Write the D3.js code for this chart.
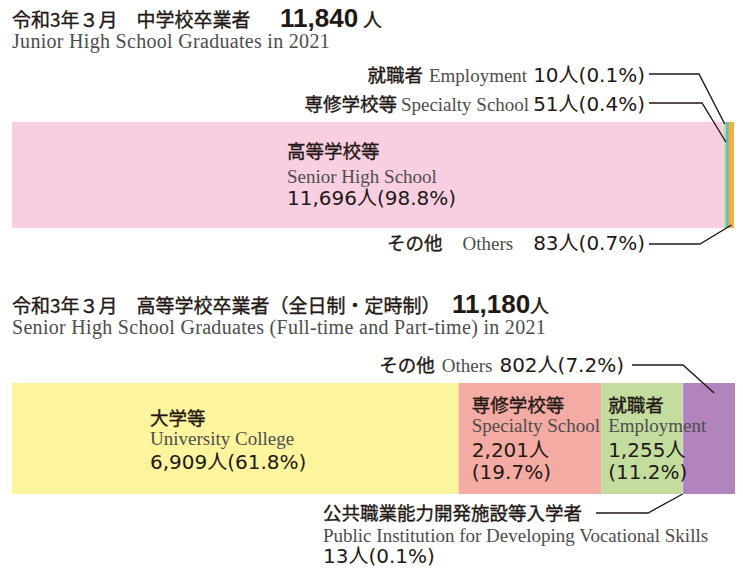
<!DOCTYPE html>
<html>
<head>
<meta charset="utf-8">
<script src="https://cdn.jsdelivr.net/npm/d3@7"></script>
<style>
  body { margin: 0; background: #fff; }
  svg { display: block; }
  .jp { stroke: #231815; stroke-width: 0.35px; }
</style>
</head>
<body>
<div id="chart"></div>
<script>
'use strict';

// junior high school graduates (top bar)
const jhTotal = '11,840';
const jhCategories = ['高等学校等', '就職者', '専修学校等', 'その他'];
const jhEnglish = ['Senior High School', 'Employment', 'Specialty School', 'Others'];
const jhCounts = [11696, 10, 51, 83];
const jhPercents = [98.8, 0.1, 0.4, 0.7];
const jhColors = ['#f8cfe1', '#b9dba6', '#6fb6c6', '#f3b23a'];

// senior high school graduates (bottom bar)
const shTotal = '11,180';
const shCategories = ['大学等', '専修学校等', '就職者', '公共職業能力開発施設等入学者', 'その他'];
const shEnglish = ['University College', 'Specialty School', 'Employment', 'Public Institution for Developing Vocational Skills', 'Others'];
const shCounts = [6909, 2201, 1255, 13, 802];
const shPercents = [61.8, 19.7, 11.2, 0.1, 7.2];
const shColors = ['#fdf59e', '#f3aba4', '#c3dd9f', '#c3dd9f', '#b184be'];

const width = 743;
const height = 571;
const JP = '"Noto Sans CJK JP", "Noto Sans", sans-serif';
const EN = '"Liberation Serif", "DejaVu Serif", serif';
const NUM = '"DejaVu Sans", "Noto Sans CJK JP", sans-serif';
const ink = '#231815';
const grey = '#4d4d4d';

const svg = d3.select('#chart').append('svg')
  .attr('width', width)
  .attr('height', height);

const fmt = d3.format(',');
const countText = (c, p) => `${fmt(c)}人(${p}%)`;

// stack segments along a linear scale, small ones get a minimum width
const stackSegments = (counts, scale, minPx) => {
  const base = scale(0);
  const widths = counts.map(c => Math.max(minPx, scale(c) - base));
  const extra = d3.sum(widths) - (scale(d3.sum(counts)) - base);
  widths[d3.maxIndex(counts)] -= extra;
  let x0 = base;
  return widths.map((w, i) => {
    const seg = {i, x: x0, w};
    x0 += w;
    return seg;
  });
};

const drawBar = (segs, colors, y, h) => {
  svg.append('g')
    .selectAll('rect')
    .data(segs)
    .join('rect')
    .attr('x', d => d.x)
    .attr('y', y)
    .attr('width', d => d.w)
    .attr('height', h)
    .attr('fill', (d, i) => colors[i]);
};

const title = (y, jp, total, numX, gap) => {
  svg.append('text')
    .attr('class', 'jp')
    .attr('x', 12)
    .attr('y', y)
    .attr('fill', ink)
    .style('font-family', JP)
    .style('font-size', '19px')
    .text(jp);
  const t = svg.append('text')
    .attr('x', numX)
    .attr('y', y)
    .attr('fill', ink)
    .style('font-family', '"Liberation Sans", Arial, sans-serif')
    .style('font-size', '26px')
    .style('font-weight', 'bold')
    .text(total);
  t.append('tspan')
    .attr('class', 'jp')
    .attr('dx', gap)
    .style('font-family', JP)
    .style('font-size', '19px')
    .style('font-weight', 'normal')
    .text('人');
};

const subtitle = (y, txt) => {
  svg.append('text')
    .attr('x', 12)
    .attr('y', y)
    .attr('fill', grey)
    .style('font-family', EN)
    .style('font-size', '20px')
    .style('letter-spacing', '0.3px')
    .text(txt);
};

// label "日本語 English N人(p%)" right aligned
const sideLabel = (xEnd, y, jp, en, num, gap) => {
  const t = svg.append('text')
    .attr('x', xEnd)
    .attr('y', y)
    .attr('text-anchor', 'end')
    .attr('fill', ink)
    .style('font-family', JP)
    .style('font-size', '18.5px');
  t.append('tspan').attr('class', 'jp').text(jp);
  t.append('tspan')
    .attr('dx', gap)
    .attr('fill', grey)
    .style('font-family', EN)
    .style('font-size', '19px')
    .text(en);
  t.append('tspan')
    .attr('dx', gap)
    .style('font-family', NUM)
    .style('font-size', '20px')
    .text(num);
};

const fontFor = r => r.en ? EN : r.num ? NUM : JP;
const sizeFor = r => r.en ? '19px' : r.num ? '20px' : '18.5px';

const lines = (x, y, rows) => {
  rows.forEach(r => {
    svg.append('text')
      .attr('class', r.en || r.num ? null : 'jp')
      .attr('x', x)
      .attr('y', y + r.dy)
      .attr('fill', r.en ? grey : ink)
      .style('font-family', fontFor(r))
      .style('font-size', sizeFor(r))
      .text(r.t);
  });
};

const leader = pts => {
  svg.append('path')
    .attr('d', d3.line()(pts))
    .attr('fill', 'none')
    .attr('stroke', ink)
    .attr('stroke-width', 1.4);
};

// ---------- top chart ----------
title(27, '令和3年３月　中学校卒業者', jhTotal, 280, 5);
subtitle(48, 'Junior High School Graduates in 2021');

const topY = 122, topH = 106;
const xTop = d3.scaleLinear().domain([0, d3.sum(jhCounts)]).range([12, 734]);
const topSegs = stackSegments(jhCounts, xTop, 2.2);
drawBar(topSegs, jhColors, topY, topH);

lines(topSegs[0].x + 275, topY, [
  {t: jhCategories[0], dy: 36},
  {t: jhEnglish[0], dy: 61, en: true},
  {t: countText(jhCounts[0], jhPercents[0]), dy: 83, num: true}
]);

sideLabel(645, 82, jhCategories[1], jhEnglish[1], countText(jhCounts[1], jhPercents[1]), 6);
sideLabel(645, 111, jhCategories[2], jhEnglish[2], countText(jhCounts[2], jhPercents[2]), 4);
sideLabel(645, 250, jhCategories[3], jhEnglish[3], countText(jhCounts[3], jhPercents[3]), 20);

const mid = s => s.x + s.w / 2;
leader([[649, 74], [699, 74], [mid(topSegs[1]), topY + 2]]);
leader([[649, 103], [702, 103], [mid(topSegs[2]) - 1.5, topY + 20]]);
leader([[649, 244], [700, 244], [mid(topSegs[3]), topY + topH - 3]]);

// ---------- bottom chart ----------
title(313, '令和3年３月　高等学校卒業者（全日制・定時制）', shTotal, 452, 0);
subtitle(334, 'Senior High School Graduates (Full-time and Part-time) in 2021');

const botY = 383, botH = 111;
const xBot = d3.scaleLinear().domain([0, d3.sum(shCounts)]).range([12, 735]);
const botSegs = stackSegments(shCounts, xBot, 0);
drawBar(botSegs, shColors, botY, botH);

lines(botSegs[0].x + 138, botY, [
  {t: shCategories[0], dy: 42},
  {t: shEnglish[0], dy: 62, en: true},
  {t: countText(shCounts[0], shPercents[0]), dy: 86, num: true}
]);
lines(botSegs[1].x + 13, botY, [
  {t: shCategories[1], dy: 29},
  {t: shEnglish[1], dy: 49, en: true},
  {t: `${fmt(shCounts[1])}人`, dy: 74, num: true},
  {t: `(${shPercents[1]}%)`, dy: 96, num: true}
]);
lines(botSegs[2].x + 7, botY, [
  {t: shCategories[2], dy: 29},
  {t: shEnglish[2], dy: 49, en: true},
  {t: `${fmt(shCounts[2])}人`, dy: 74, num: true},
  {t: `(${shPercents[2]}%)`, dy: 96, num: true}
]);

sideLabel(624, 372, shCategories[4], shEnglish[4], countText(shCounts[4], shPercents[4]), 7);
leader([[632, 365], [683, 365], [botSegs[4].x + 31, botY + 10]]);

lines(323, 500, [
  {t: shCategories[3], dy: 20},
  {t: shEnglish[3], dy: 42, en: true},
  {t: countText(shCounts[3], shPercents[3]), dy: 63, num: true}
]);
leader([[596, 513], [648, 513], [mid(botSegs[3]), botY + botH]]);
</script>
</body>
</html>
